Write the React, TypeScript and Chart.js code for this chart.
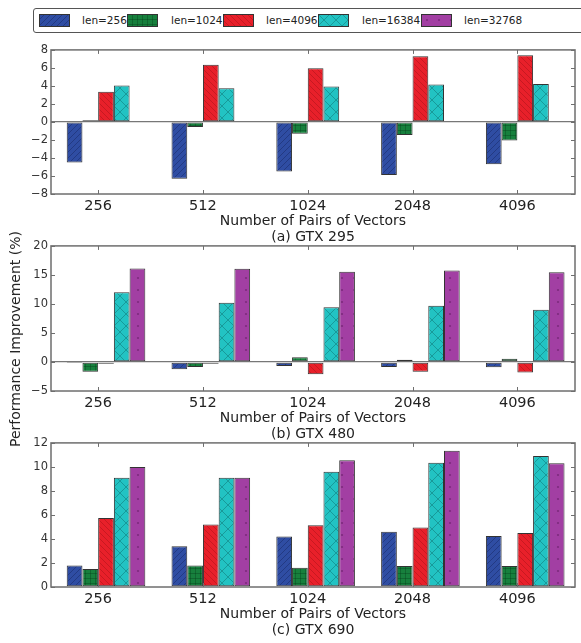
import React, { useEffect, useRef } from 'react';
import { Chart, registerables } from 'chart.js';
Chart.register(...registerables);
Chart.defaults.font.family = 'DejaVu Sans';

const categories = ['256', '512', '1024', '2048', '4096'];
const seriesNames = ['len=256', 'len=1024', 'len=4096', 'len=16384', 'len=32768'];

// (a) GTX 295
const gtx295Len256 = [-4.5, -6.3, -5.5, -5.9, -4.7];
const gtx295Len1024 = [0.2, -0.55, -1.3, -1.45, -2.05];
const gtx295Len4096 = [3.35, 6.35, 5.95, 7.3, 7.4];
const gtx295Len16384 = [4.05, 3.75, 3.95, 4.15, 4.2];
const gtx295Len32768 = [null, null, null, null, null];

// (b) GTX 480
const gtx480Len256 = [-0.05, -1.25, -0.7, -0.85, -0.9];
const gtx480Len1024 = [-1.7, -0.85, 0.8, 0.4, 0.55];
const gtx480Len4096 = [-0.3, -0.3, -2.1, -1.7, -1.8];
const gtx480Len16384 = [12.0, 10.2, 9.45, 9.7, 9.0];
const gtx480Len32768 = [16.1, 16.05, 15.55, 15.75, 15.45];

// (c) GTX 690
const gtx690Len256 = [1.8, 3.4, 4.2, 4.6, 4.25];
const gtx690Len1024 = [1.5, 1.8, 1.6, 1.75, 1.75];
const gtx690Len4096 = [5.75, 5.2, 5.15, 4.95, 4.5];
const gtx690Len16384 = [9.1, 9.1, 9.6, 10.35, 10.9];
const gtx690Len32768 = [10.0, 9.1, 10.55, 11.35, 10.3];

const fills = ['#2f4da3', '#17803d', '#e8202a', '#22c3c3', '#a23fa3'];
const hatchColors = ['rgba(20,35,90,0.55)', 'rgba(5,60,25,0.45)', 'rgba(150,15,20,0.5)', 'rgba(15,110,110,0.6)', 'rgba(100,30,100,0.6)'];
const hatches = ['/', '+', '\\', 'x', '.'];

function makePattern(ctx: CanvasRenderingContext2D, idx: number) {
  const hatch = hatches[idx];
  const s = hatch === 'x' || hatch === '.' ? 12 : hatch === '+' ? 5 : 6;
  const c = document.createElement('canvas');
  c.width = s;
  c.height = s;
  const g = c.getContext('2d')!;
  g.fillStyle = fills[idx];
  g.fillRect(0, 0, s, s);
  g.strokeStyle = hatchColors[idx];
  g.fillStyle = hatchColors[idx];
  g.lineWidth = 0.8;
  g.beginPath();
  if (hatch === '/' || hatch === 'x') {
    for (let k = -1; k <= 1; k++) {
      g.moveTo(k * s, s);
      g.lineTo(k * s + s, 0);
    }
  }
  if (hatch === '\\' || hatch === 'x') {
    for (let k = -1; k <= 1; k++) {
      g.moveTo(k * s, 0);
      g.lineTo(k * s + s, s);
    }
  }
  if (hatch === '+') {
    g.moveTo(0.5, 0);
    g.lineTo(0.5, s);
    g.moveTo(0, 0.5);
    g.lineTo(s, 0.5);
  }
  g.stroke();
  if (hatch === '.') {
    g.beginPath();
    g.arc(s / 2, s / 2, 1.1, 0, Math.PI * 2);
    g.fill();
  }
  return ctx.createPattern(c, 'repeat')!;
}

const framePlugin = {
  id: 'frame',
  afterDatasetsDraw(chart: any) {
    const { ctx, chartArea: a, scales } = chart;
    ctx.save();
    ctx.strokeStyle = '#6e6e6e';
    ctx.lineWidth = 1.5;
    ctx.strokeRect(a.left, a.top, a.right - a.left, a.bottom - a.top);
    ctx.lineWidth = 1;
    const L = 4;
    ctx.beginPath();
    scales.x.ticks.forEach((_: any, i: number) => {
      const px = Math.round(scales.x.getPixelForTick(i)) + 0.5;
      ctx.moveTo(px, a.top);
      ctx.lineTo(px, a.top + L);
      ctx.moveTo(px, a.bottom);
      ctx.lineTo(px, a.bottom - L);
    });
    scales.y.ticks.forEach((_: any, i: number) => {
      const py = Math.round(scales.y.getPixelForTick(i)) + 0.5;
      ctx.moveTo(a.left, py);
      ctx.lineTo(a.left + L, py);
      ctx.moveTo(a.right, py);
      ctx.lineTo(a.right - L, py);
    });
    ctx.stroke();
    ctx.restore();
  },
};

type PanelProps = {
  top: number;
  height: number;
  series: (number | null)[][];
  yMin: number;
  yMax: number;
  step: number;
  subtitle: string;
};

function Panel({ top, height, series, yMin, yMax, step, subtitle }: PanelProps) {
  const ref = useRef<HTMLCanvasElement>(null);
  useEffect(() => {
    const canvas = ref.current!;
    const ctx = canvas.getContext('2d')!;
    const datasets: any[] = [
      {
        label: '',
        data: categories.map((_, i) => ({ x: i, y: null })),
        backgroundColor: 'transparent',
        borderWidth: 0,
      },
      ...series.map((vals, si) => ({
        label: seriesNames[si],
        data: vals.map((v, i) => ({ x: i, y: v })),
        backgroundColor: makePattern(ctx, si),
        borderColor: '#333333',
        borderWidth: 1,
        borderSkipped: false,
      })),
    ];
    const chart = new Chart(canvas, {
      type: 'bar',
      data: { datasets },
      options: {
        animation: false,
        responsive: false,
        maintainAspectRatio: false,
        layout: { padding: { top: 9, bottom: 5, left: 0, right: 6 } },
        plugins: { legend: { display: false }, tooltip: { enabled: false } },
        datasets: { bar: { categoryPercentage: 0.9, barPercentage: 1 } } as any,
        scales: {
          x: {
            type: 'linear',
            offset: false,
            min: -0.45,
            max: 4.55,
            afterBuildTicks: (s: any) => {
              s.ticks = categories.map((_, i) => ({ value: i }));
            },
            afterFit: (s: any) => {
              s.height = 51;
            },
            grid: { display: false, drawTicks: false, offset: false },
            border: { display: false },
            ticks: {
              autoSkip: false,
              maxRotation: 0,
              padding: 4,
              color: '#222',
              font: { size: 14.5 },
              callback: (_v: any, i: number) => categories[i] ?? '',
            },
            title: {
              display: true,
              text: ['Number of Pairs of Vectors', subtitle],
              color: '#222',
              font: { size: 14, lineHeight: '16px' as any },
              padding: { top: 0, bottom: 0 },
            },
          },
          y: {
            min: yMin,
            max: yMax,
            afterFit: (s: any) => {
              s.width = 51;
            },
            grid: {
              drawTicks: false,
              lineWidth: 1.3,
              color: (c: any) => (c.tick && c.tick.value === 0 && yMin < 0 ? '#777' : 'rgba(0,0,0,0)'),
            },
            border: { display: false },
            ticks: {
              stepSize: step,
              padding: 3,
              color: '#333',
              font: { size: 11.5 },
              callback: (v: any) => (v < 0 ? '\u2212' + Math.abs(v) : String(v)),
            },
          },
        },
      },
      plugins: [framePlugin],
    });
    return () => chart.destroy();
  }, []);
  return (
    <canvas
      ref={ref}
      width={581}
      height={height}
      style={{ position: 'absolute', left: 0, top, width: 581, height }}
    />
  );
}

function Swatch({ idx, left }: { idx: number; left: number }) {
  const ref = useRef<HTMLCanvasElement>(null);
  useEffect(() => {
    const c = ref.current!;
    const g = c.getContext('2d')!;
    g.fillStyle = makePattern(g, idx);
    g.fillRect(0, 0, c.width, c.height);
    g.strokeStyle = '#333';
    g.lineWidth = 1;
    g.strokeRect(0.5, 0.5, c.width - 1, c.height - 1);
  }, []);
  return (
    <canvas
      ref={ref}
      width={31}
      height={13}
      style={{ position: 'absolute', left, top: 5, width: 31, height: 13 }}
    />
  );
}

const swatchLefts = [5, 93, 189, 284, 387];
const textLefts = [48, 137, 232, 328, 430];

export default function App() {
  return (
    <div
      style={{
        position: 'fixed',
        left: 0,
        top: 0,
        width: 581,
        height: 643,
        overflow: 'hidden',
        background: '#fff',
        fontFamily: 'DejaVu Sans',
      }}
    >
      <div
        style={{
          position: 'absolute',
          left: 33,
          top: 8,
          width: 570,
          height: 23,
          border: '1px solid #555',
          borderRadius: 3,
          boxSizing: 'content-box',
        }}
      >
        {seriesNames.map((n, i) => (
          <React.Fragment key={n}>
            <Swatch idx={i} left={swatchLefts[i]} />
            <div
              style={{
                position: 'absolute',
                left: textLefts[i],
                top: 3,
                fontSize: 10.5,
                lineHeight: '16px',
                color: '#222',
                whiteSpace: 'nowrap',
              }}
            >
              {n}
            </div>
          </React.Fragment>
        ))}
      </div>
      <Panel
        top={40}
        height={210}
        series={[gtx295Len256, gtx295Len1024, gtx295Len4096, gtx295Len16384, gtx295Len32768]}
        yMin={-8}
        yMax={8}
        step={2}
        subtitle="(a) GTX 295"
      />
      <Panel
        top={236}
        height={211}
        series={[gtx480Len256, gtx480Len1024, gtx480Len4096, gtx480Len16384, gtx480Len32768]}
        yMin={-5}
        yMax={20}
        step={5}
        subtitle="(b) GTX 480"
      />
      <Panel
        top={433}
        height={210}
        series={[gtx690Len256, gtx690Len1024, gtx690Len4096, gtx690Len16384, gtx690Len32768]}
        yMin={0}
        yMax={12}
        step={2}
        subtitle="(c) GTX 690"
      />
      <div
        style={{
          position: 'absolute',
          left: 15,
          top: 339,
          transform: 'translate(-50%, -50%) rotate(-90deg)',
          fontSize: 14,
          color: '#222',
          whiteSpace: 'nowrap',
        }}
      >
        Performance Improvement (%)
      </div>
    </div>
  );
}
